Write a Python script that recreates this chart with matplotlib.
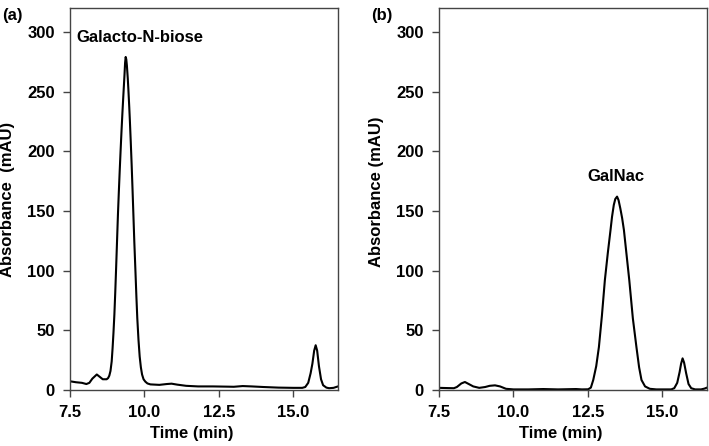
"""HPLC chromatograms: (a) Galacto-N-biose, (b) GalNac."""

import matplotlib

matplotlib.use("Agg")
import matplotlib.pyplot as plt

plt.rcParams["font.family"] = ["Liberation Sans", "DejaVu Sans"]
plt.rcParams["font.weight"] = "bold"

# panel (a) trace
time_a = [7.5, 7.7, 7.9, 8.05, 8.15, 8.25, 8.4, 8.5, 8.6, 8.73,
          8.78, 8.82, 8.86, 8.9, 8.93, 8.96, 8.99, 9.02, 9.05, 9.08,
          9.11, 9.14, 9.17, 9.2, 9.23, 9.26, 9.29, 9.31, 9.33, 9.35,
          9.37, 9.39, 9.41, 9.44, 9.46, 9.49, 9.51, 9.54, 9.57, 9.6,
          9.63, 9.66, 9.7, 9.73, 9.76, 9.8, 9.84, 9.88, 9.92, 9.97,
          10.03, 10.1, 10.2, 10.5, 10.75, 10.91, 11.1, 11.4, 11.8, 12.3,
          12.8, 13.0, 13.3, 13.6, 14.0, 14.5, 15.0, 15.3, 15.4, 15.5,
          15.58, 15.64, 15.7, 15.75, 15.8, 15.86, 15.93, 16.0, 16.11, 16.2,
          16.35, 16.5]
absorb_a = [7.3, 6.5, 6.0, 5.0, 6.0, 9.5, 13.0, 11.0, 9.0, 9.0,
            10.0, 12.0, 16.0, 24.0, 35.0, 48.0, 63.0, 82.0, 103.0, 125.0,
            147.0, 166.0, 184.0, 201.0, 217.0, 232.0, 246.0, 255.0, 264.0, 274.0,
            279.0, 277.0, 272.0, 261.0, 252.0, 237.0, 226.0, 208.0, 189.0, 168.0,
            146.0, 124.0, 98.0, 78.0, 60.0, 42.0, 28.0, 19.0, 13.0, 9.0,
            7.0, 5.5, 4.7, 4.3, 5.0, 5.3, 4.5, 3.5, 3.0, 3.0,
            2.8, 2.7, 3.3, 3.0, 2.5, 2.0, 1.8, 1.8, 2.5, 6.0,
            14.0, 22.0, 33.0, 37.5, 33.0, 20.0, 9.0, 4.0, 2.0, 1.5,
            1.8, 3.0]

# panel (b) trace
time_b = [7.5, 7.8, 8.0, 8.1, 8.25, 8.37, 8.5, 8.65, 8.85, 9.05,
          9.2, 9.38, 9.55, 9.75, 10.0, 10.5, 11.0, 11.5, 12.1, 12.3,
          12.51, 12.6, 12.68, 12.78, 12.87, 12.97, 13.07, 13.17, 13.26, 13.31,
          13.37, 13.42, 13.48, 13.53, 13.59, 13.65, 13.71, 13.8, 13.89, 14.01,
          14.13, 14.22, 14.3, 14.42, 14.58, 14.8, 15.1, 15.3, 15.4, 15.5,
          15.58, 15.63, 15.68, 15.73, 15.8, 15.88, 15.97, 16.1, 16.3, 16.42,
          16.5]
absorb_b = [1.8, 1.6, 1.5, 2.5, 5.5, 6.7, 5.0, 3.0, 1.8, 2.5,
            3.5, 3.9, 3.0, 1.0, 0.5, 0.5, 0.8, 0.5, 0.8, 0.5,
            0.6, 2.0, 8.4, 20.0, 36.0, 62.0, 92.0, 115.0, 134.0, 145.0,
            155.0, 160.0, 162.0, 159.0, 152.0, 144.0, 134.0, 113.0, 92.0, 60.0,
            36.0, 19.0, 8.4, 3.0, 1.0, 0.5, 0.5, 0.5, 1.5, 6.0,
            15.0, 22.0, 26.5, 23.0, 14.0, 5.0, 1.5, 0.5, 0.5, 1.2,
            2.0]

x_ticks = [7.5, 10.0, 12.5, 15.0]
y_ticks = [0, 50, 100, 150, 200, 250, 300]


def draw_panel(ax, time, absorb, tag, peak_name, peak_xy, ylabel, ylabel_y):
    """Dibuja un cromatograma con el estilo de la figura."""
    ax.plot(time, absorb, color="black", lw=1.5)
    ax.set_xlim(7.5, 16.5)
    ax.set_ylim(0, 320)
    ax.set_xticks(x_ticks)
    ax.set_xticklabels([f"{t:.1f}" for t in x_ticks])
    ax.set_yticks(y_ticks)
    ax.tick_params(axis="both", direction="out", length=5, width=1,
                   colors="#444444", labelcolor="black", labelsize=12)
    ax.tick_params(axis="x", pad=6)
    ax.tick_params(axis="y", pad=6)
    for spine in ax.spines.values():
        spine.set_color("#444444")
        spine.set_linewidth(1.0)

    ax.set_xlabel("Time (min)", fontsize=12, fontweight="bold")
    ax.xaxis.set_label_coords(0.455, -0.095)
    ax.set_ylabel(ylabel, fontsize=12, fontweight="bold")
    ax.yaxis.set_label_coords(-0.207, ylabel_y)

    ax.text(peak_xy[0], peak_xy[1], peak_name, fontsize=12,
            fontweight="bold", ha=peak_xy[2], va="center")
    ax.text(-0.255, 1.0, tag, transform=ax.transAxes, fontsize=12,
            fontweight="bold", ha="left", va="top")


fig = plt.figure(figsize=(7.09, 4.46), dpi=100)
ax_a = fig.add_axes([70 / 709, 56 / 446, 268 / 709, 382 / 446])
ax_b = fig.add_axes([439 / 709, 56 / 446, 268 / 709, 382 / 446])

draw_panel(ax_a, time_a, absorb_a, "(a)", "Galacto-N-biose",
           (7.73, 295, "left"), "Absorbance  (mAU)", 0.5)
draw_panel(ax_b, time_b, absorb_b, "(b)", "GalNac",
           (13.43, 179, "center"), "Absorbance (mAU)", 0.52)

fig.savefig("out.png", dpi=100)
